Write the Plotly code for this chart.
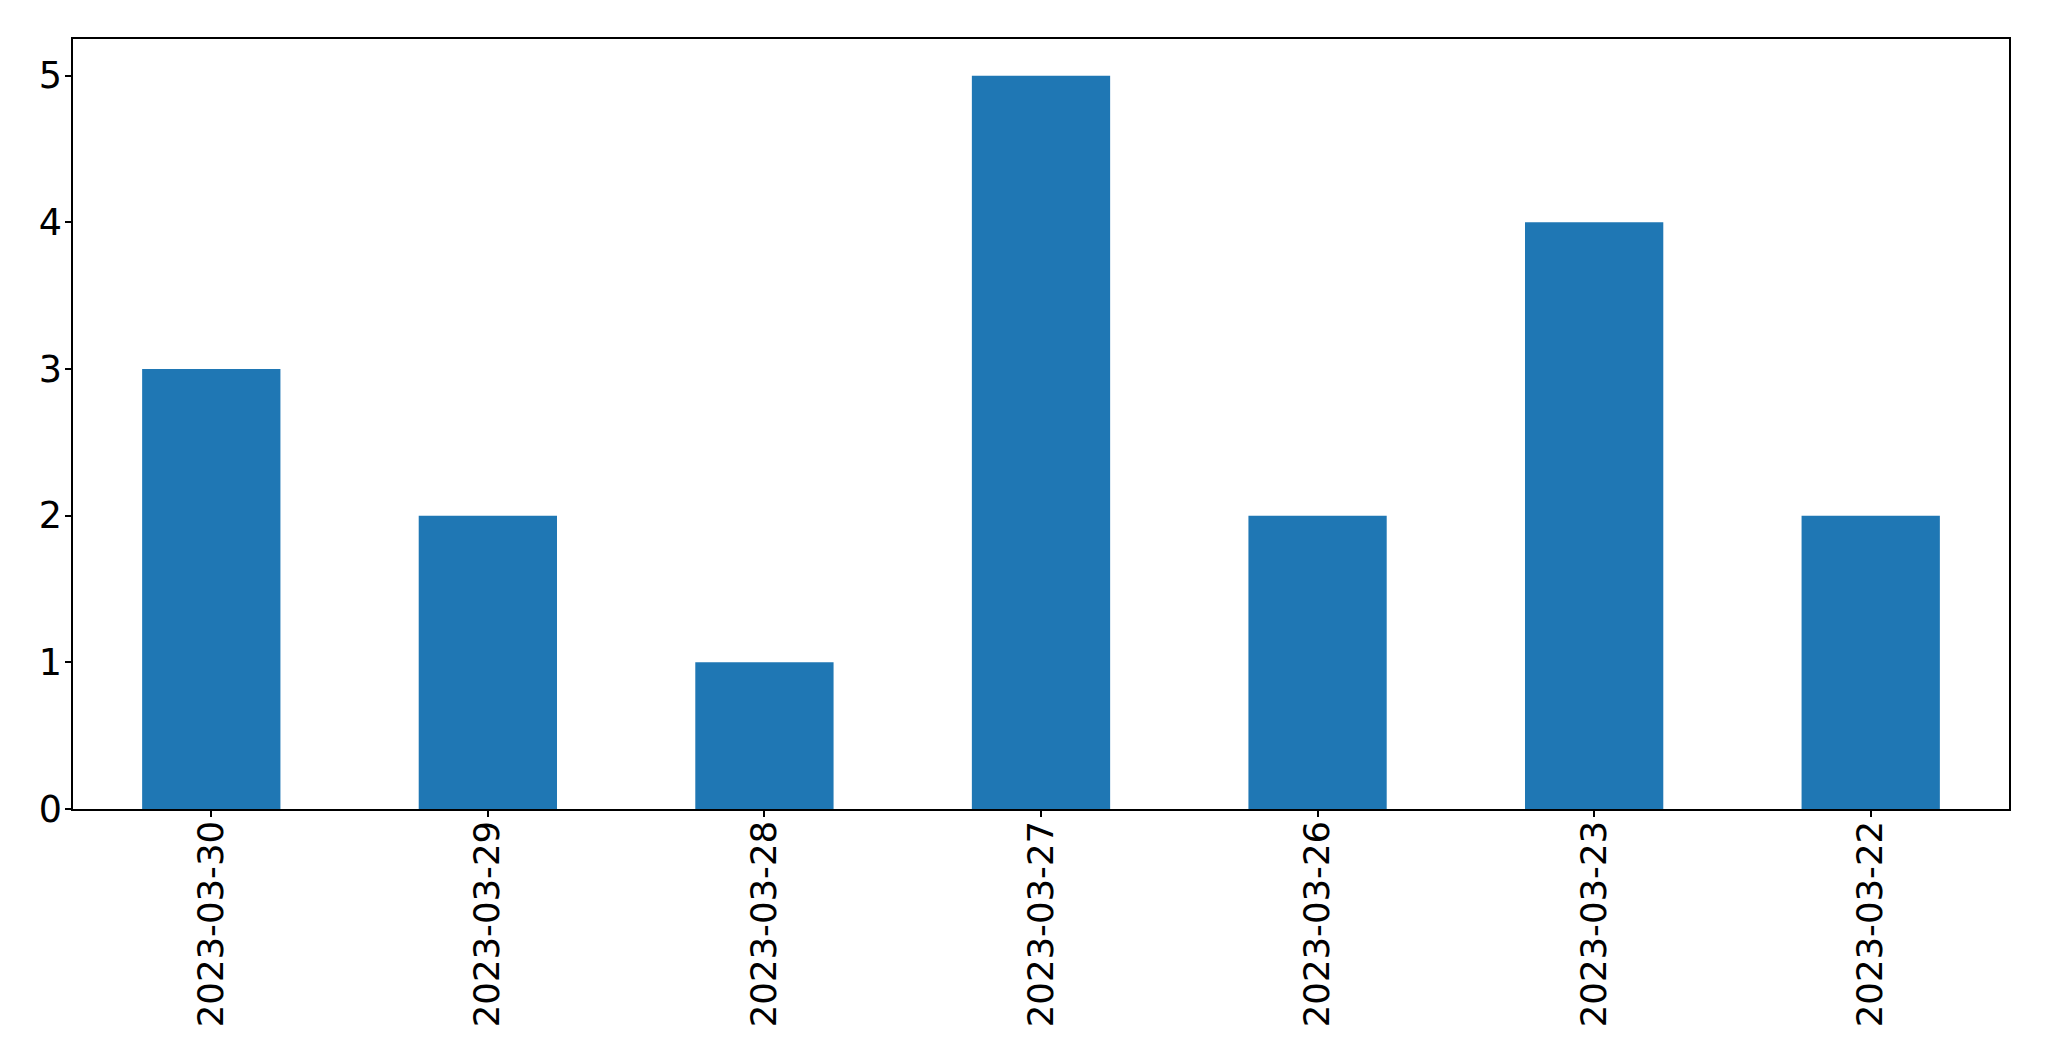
import plotly.graph_objects as go

dates = ["2023-03-30", "2023-03-29", "2023-03-28", "2023-03-27", "2023-03-26", "2023-03-23", "2023-03-22"]
counts = [3, 2, 1, 5, 2, 4, 2]
y_ticks = [0, 1, 2, 3, 4, 5]

fig = go.Figure(go.Bar(x=dates, y=counts, marker=dict(color="#1f77b4", line=dict(width=0)), width=0.5))

# page body has an 8px margin; compensate so the plot box lands where the reference has it
OFF = 8
W, H = 2049 - 2 * OFF, 1061 - 2 * OFF
L, T, R, B = 73, 39, 2009, 809
fig.update_layout(
    width=W, height=H,
    margin=dict(l=L - OFF, r=OFF + W - R, t=T - OFF, b=OFF + H - B, pad=0),
    paper_bgcolor="white", plot_bgcolor="white",
    font=dict(family="DejaVu Sans", size=35.5, color="black"),
    showlegend=False,
)
fig.update_xaxes(
    type="category", range=[-0.5, 6.5], tickangle=-90,
    showline=True, linecolor="black", linewidth=1.5, mirror=True,
    ticks="outside", ticklen=6, tickwidth=1.5, tickcolor="black",
    showgrid=False, zeroline=False, ticklabelstandoff=-10, automargin=False,
)
fig.update_yaxes(
    range=[0, 5.25], tickvals=y_ticks,
    showline=True, linecolor="black", linewidth=1.5, mirror=True,
    ticks="outside", ticklen=6, tickwidth=1.5, tickcolor="black",
    showgrid=False, zeroline=False, ticklabelstandoff=-4, automargin=False,
    tickfont=dict(size=36.5),
)
fig.write_html("out.html")
